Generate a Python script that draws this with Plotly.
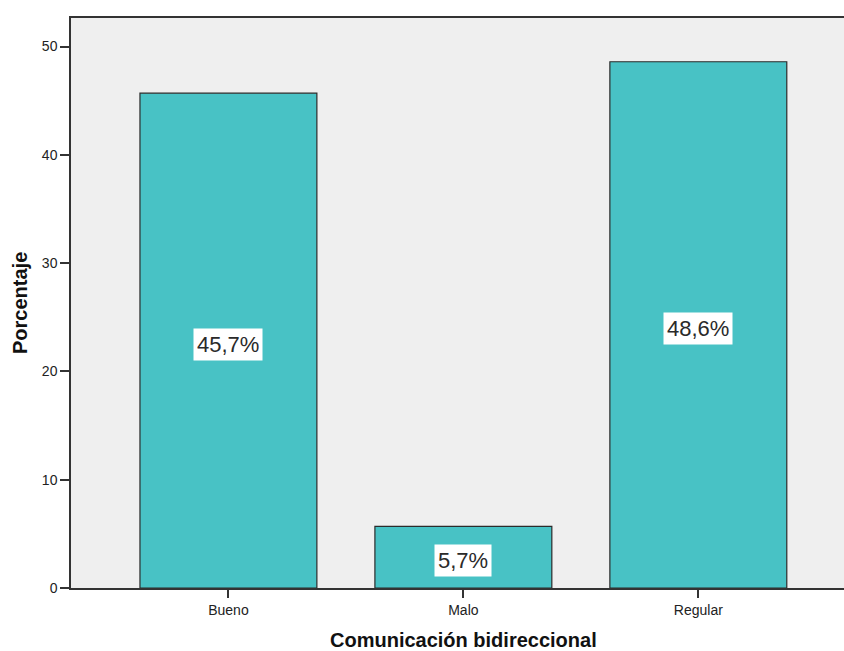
import plotly.graph_objects as go

# Comunicación bidireccional: percentage per category
categories = ["Bueno", "Malo", "Regular"]
percentages = [45.7, 5.7, 48.6]
value_labels = ["45,7%", "5,7%", "48,6%"]
y_ticks = [0, 10, 20, 30, 40, 50]

x_pos = list(range(len(categories)))

fig = go.Figure()
fig.add_trace(go.Bar(
    x=x_pos,
    y=percentages,
    width=0.753,
    marker=dict(color="#48C2C5", line=dict(color="#2b2b2b", width=1.2)),
    hoverinfo="skip",
))

# value labels in white boxes at the middle of each bar
for xp, v, lab in zip(x_pos, percentages, value_labels):
    fig.add_annotation(
        x=xp, y=v / 2, xref="x", yref="y", yshift=-3.5,
        text=lab, showarrow=False,
        font=dict(family="Liberation Sans, Arial", size=22, color="#2a2a2a"),
        bgcolor="white", borderpad=3,
    )

# axis titles
fig.add_annotation(
    x=1, y=0, xref="x", yref="paper", yshift=-52,
    text="<b>Comunicación bidireccional</b>", showarrow=False,
    font=dict(family="Liberation Sans, Arial", size=20, color="#111111"),
    yanchor="middle",
)
fig.add_annotation(
    x=0, y=0.5, xref="paper", yref="paper", xshift=-51,
    text="<b>Porcentaje</b>", showarrow=False, textangle=-90,
    font=dict(family="Liberation Sans, Arial", size=20, color="#111111"),
    xanchor="center",
)

fig.update_layout(
    width=844, height=651,
    margin=dict(l=71, r=0, t=18, b=63),
    paper_bgcolor="white",
    plot_bgcolor="#EFEFEF",
    showlegend=False,
    font=dict(family="Liberation Sans, Arial", size=14, color="#222222"),
    xaxis=dict(
        range=[-0.67, 2.62],
        tickvals=x_pos, ticktext=categories,
        ticks="outside", ticklen=8, tickcolor="#333333", tickwidth=1.5,
        showline=True, linecolor="#333333", linewidth=1.5, mirror=True,
        showgrid=False, zeroline=False,
        tickfont=dict(size=14, color="#222222"),
    ),
    yaxis=dict(
        range=[0, 52.64],
        tickvals=y_ticks,
        ticks="outside", ticklen=9, tickcolor="#333333", tickwidth=1.5,
        showline=True, linecolor="#333333", linewidth=1.5,
        showgrid=False, zeroline=False,
        tickfont=dict(size=14, color="#222222"),
    ),
)

fig.write_html("out.html")
